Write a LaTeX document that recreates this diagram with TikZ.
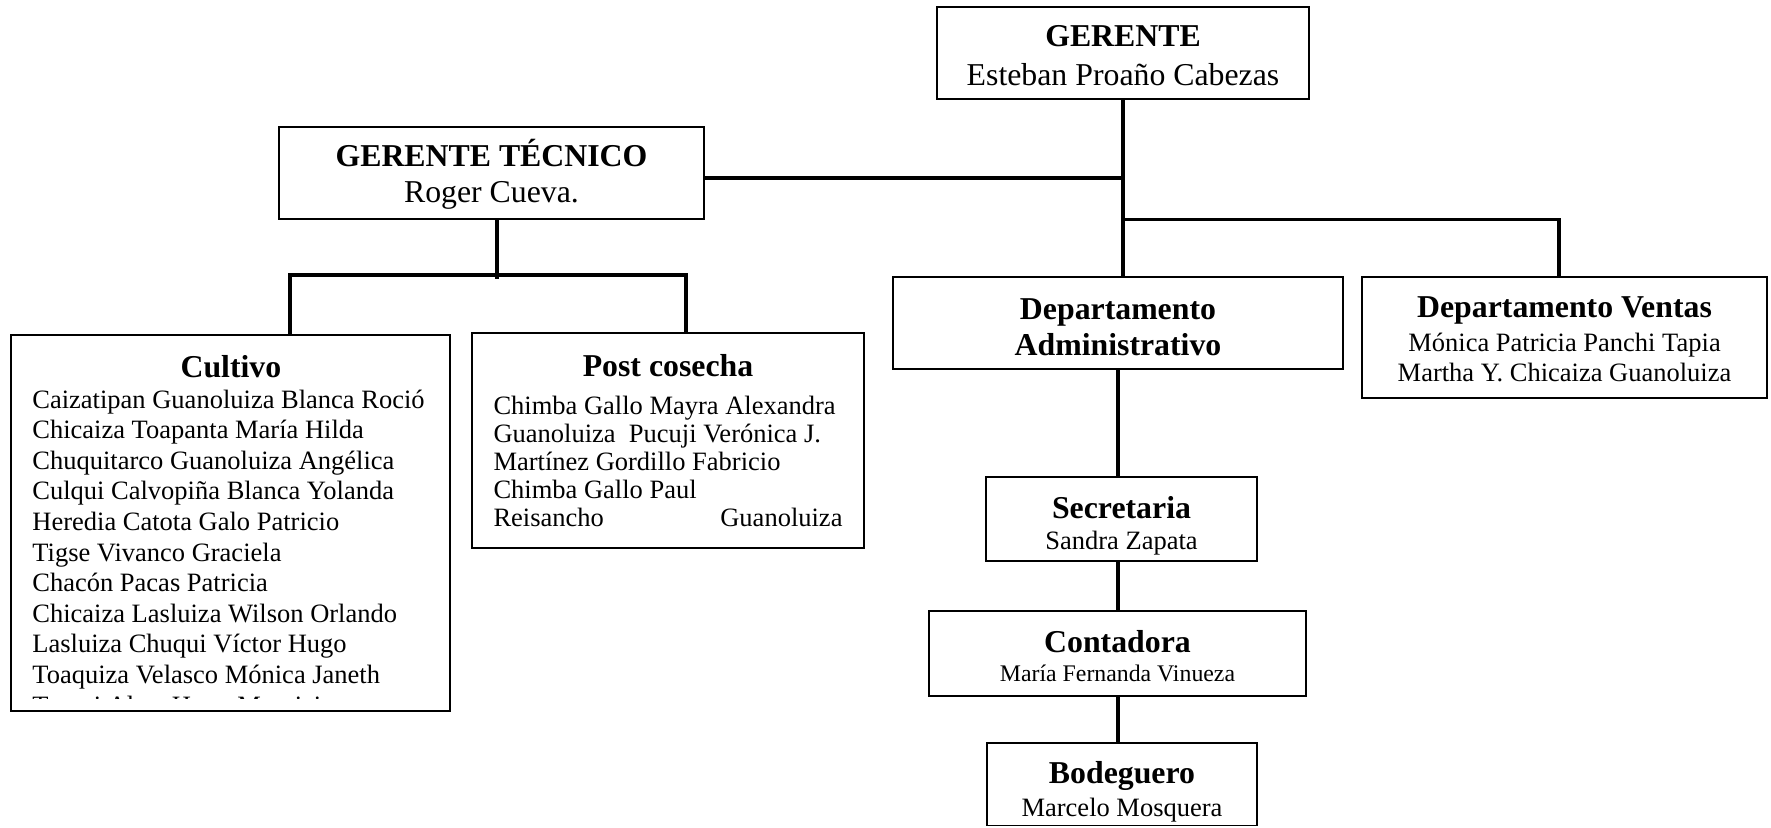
\documentclass[tikz,border=0pt]{standalone}
\usepackage{fontspec}
\setmainfont{Liberation Serif}
\usetikzlibrary{positioning,calc}

\tikzset{
  caja/.style={draw, line width=0.85pt, inner sep=0pt},
  texto/.style={inner sep=0pt, align=center},
  conector/.style={line width=1.7pt},
}
\newcommand{\titulo}[1]{{\fontsize{15.9}{19}\selectfont\bfseries #1}}

\begin{document}
\begin{tikzpicture}[x=0.5pt, y=-0.5pt]
\useasboundingbox (0,0) rectangle (1771,827);

% Gerencia
\node[caja, minimum width=186pt, minimum height=46pt] (gerente) at (1123,53) {};
\node[texto, font=\fontsize{15.9}{19.5}\selectfont] (gerente-txt) at ([yshift=-1.5pt]gerente.center) {\titulo{GERENTE}\\Esteban Proaño Cabezas};
\node[caja, minimum width=212.5pt, minimum height=46pt] (tecnico) at (491.5,173) {};
\node[texto, font=\fontsize{15.9}{18}\selectfont] (tecnico-txt) at ([yshift=-0.8pt]tecnico.center) {\titulo{GERENTE TÉCNICO}\\Roger Cueva.};

% Departamentos
\node[caja, minimum width=225pt, minimum height=46pt] (admin) at (1118,323) {};
\node[texto, font=\fontsize{15.9}{18}\selectfont\bfseries] (admin-txt) at ([yshift=-2pt]admin.center) {Departamento\\Administrativo};
\node[caja, minimum width=202.5pt, minimum height=60.5pt] (ventas) at (1564.5,337.5) {};
\node[texto, font=\fontsize{13.25}{15}\selectfont] (ventas-txt) at ([yshift=-1.1pt]ventas.center) {\titulo{Departamento Ventas}\\[2pt]Mónica Patricia Panchi Tapia\\Martha Y. Chicaiza Guanoluiza};

% Area administrativa
\node[caja, minimum width=135.5pt, minimum height=42pt] (secre) at (1121.5,519) {};
\node[texto, font=\fontsize{13.25}{15.5}\selectfont] (secre-txt) at ([yshift=-3.4pt]secre.center) {\titulo{Secretaria}\\Sandra Zapata};
\node[caja, minimum width=188.5pt, minimum height=42.5pt] (conta) at (1117.5,653.5) {};
\node[texto, font=\fontsize{11.9}{14.2}\selectfont] (conta-txt) at ([yshift=-1.25pt]conta.center) {\titulo{Contadora}\\María Fernanda Vinueza};
\node[caja, minimum width=135pt, minimum height=41.25pt] (bode) at (1122,784.25) {};
\node[texto, font=\fontsize{13.25}{16.5}\selectfont] (bode-txt) at ([yshift=-3.9pt]bode.center) {\titulo{Bodeguero}\\Marcelo Mosquera};

% Area tecnica
\node[caja, minimum width=219.5pt, minimum height=188pt] (cultivo) at (230.5,523) {};
\coordinate (corte) at (450,698.5);
\begin{scope}
  \clip (cultivo.north west) rectangle (corte);
  \node[texto, anchor=north west, align=left, font=\fontsize{13.25}{15.3}\selectfont] (cultivo-lista) at (32,355) {\makebox[198.5pt]{\titulo{Cultivo}}\\
    Caizatipan Guanoluiza Blanca Roció\\
    Chicaiza Toapanta María Hilda\\
    Chuquitarco Guanoluiza Angélica\\
    Culqui Calvopiña Blanca Yolanda\\
    Heredia Catota Galo Patricio\\
    Tigse Vivanco Graciela\\
    Chacón Pacas Patricia\\
    Chicaiza Lasluiza Wilson Orlando\\
    Lasluiza Chuqui Víctor Hugo\\
    Toaquiza Velasco Mónica Janeth\\
    Tarqui Alata Hugo Mauricio};
\end{scope}
\node[caja, minimum width=196pt, minimum height=107.5pt] (post) at (668,440.5) {};
\node[texto, align=left, font=\fontsize{13.25}{14}\selectfont] (post-lista) at (post.center) {\makebox[174.5pt]{\titulo{Post cosecha}}\\[5.25pt]
    Chimba Gallo Mayra Alexandra\\
    Guanoluiza~ Pucuji Verónica J.\\
    Martínez Gordillo Fabricio\\
    Chimba Gallo Paul\\
    \makebox[174.5pt]{Reisancho\hfill Guanoluiza}};

% Lineas
\draw[conector] (gerente.south) -- (gerente.south |- admin.north);
\coordinate (linea-tec) at ([yshift=-2.5pt]tecnico.east);
\draw[conector] (linea-tec) -- (linea-tec -| gerente.south);
\coordinate (cruce-ventas) at (1123,219.5);
\draw[conector] (cruce-ventas) -| ([xshift=-2.75pt]ventas.north);
\coordinate (cruce-tec) at (497,275);
\draw[conector] ([xshift=2.75pt]tecnico.south) -- ([yshift=-2pt]cruce-tec);
\draw[conector] ([xshift=29.75pt]cultivo.north) |- (cruce-tec) -| ([xshift=9pt]post.north);
\draw[conector] (admin.south) -- (admin.south |- secre.north);
\draw[conector] (secre.south -| admin.south) -- (admin.south |- conta.north);
\draw[conector] (conta.south -| admin.south) -- (admin.south |- bode.north);
\end{tikzpicture}
\end{document}
